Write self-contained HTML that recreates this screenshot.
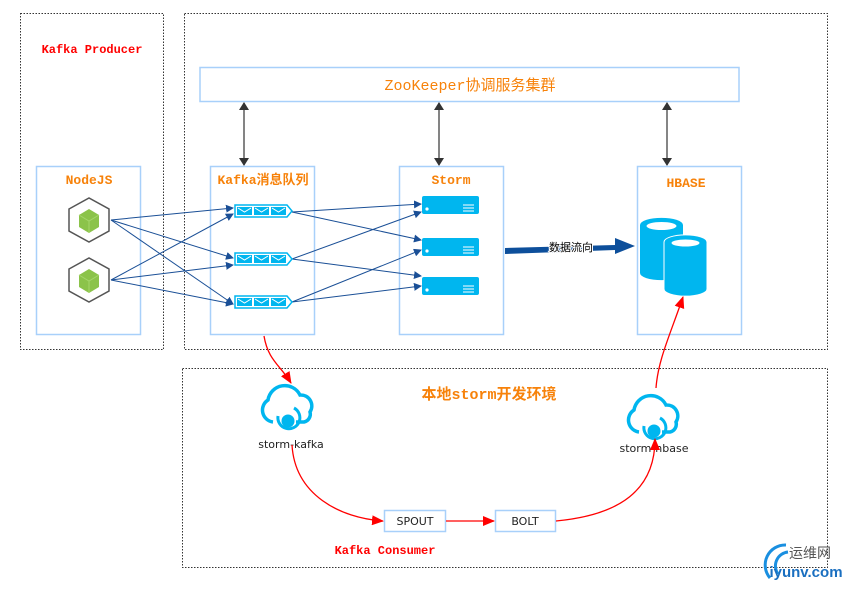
<!DOCTYPE html>
<html><head><meta charset="utf-8"><style>
body{margin:0;background:#fff;width:851px;height:587px;overflow:hidden}
</style></head><body>
<svg width="851" height="587" viewBox="0 0 851 587" xmlns="http://www.w3.org/2000/svg" font-family="Liberation Mono, Noto Sans CJK SC, monospace">
<defs>
<marker id="ab" markerWidth="8" markerHeight="8" refX="7" refY="4" orient="auto" markerUnits="userSpaceOnUse"><path d="M0,0 L8,4 L0,8 z" fill="#1a4f96"/></marker>
<marker id="ak" markerWidth="8" markerHeight="10" refX="7" refY="5" orient="auto-start-reverse" markerUnits="userSpaceOnUse"><path d="M0,0 L8,5 L0,10 z" fill="#333"/></marker>
<marker id="ar" markerWidth="12" markerHeight="10" refX="11" refY="5" orient="auto" markerUnits="userSpaceOnUse"><path d="M0,0 L12,5 L0,10 z" fill="#f00"/></marker>
<g id="q"><path d="M0,0 H52 L57,6 L52,12 H0 z" fill="#fff" stroke="#00b6ef" stroke-width="1.5"/>
<rect x="2" y="2" width="15" height="8" fill="#00b6ef"/><rect x="19" y="2" width="15" height="8" fill="#00b6ef"/><rect x="36" y="2" width="15" height="8" fill="#00b6ef"/>
<path d="M3,3 l6.5,4 l6.5,-4 M20,3 l6.5,4 l6.5,-4 M37,3 l6.5,4 l6.5,-4" stroke="#fff" fill="none"/></g>
<g id="s"><rect x="0" y="0" width="57" height="18" rx="2" fill="#00b6ef"/><circle cx="5" cy="13" r="1.6" fill="#fff"/><path d="M41,9h11M41,12h11M41,15h11" stroke="#fff"/></g>
<g id="c"><path d="M-20,-11 l20,-11 l20,11 v22 l-20,11 l-20,-11 z" fill="#fff" stroke="#555" stroke-width="1.5"/><path d="M-10,-5 l10,-6 l10,6 v12 l-10,6 l-10,-6z" fill="#8bc34a"/><path d="M-10,-5 l10,6 l10,-6 M0,1 v12" stroke="#a5d66b" fill="none"/></g>
<g id="cl"><path d="M-17,14 a12,12 0 0 1 -5,-22 a17,17 0 0 1 32,-5 a11,11 0 0 1 10,17 a8,8 0 0 1 -6,10 h-8" fill="none" stroke="#00b6ef" stroke-width="3.5"/><circle cx="-2" cy="13" r="6.5" fill="#00b6ef"/><path d="M-12,8 a11,11 0 1 0 16,-8" fill="none" stroke="#00b6ef" stroke-width="3"/></g>
</defs>
<g fill="none" stroke="#333" stroke-dasharray="1.5,1.5">
<rect x="20.5" y="13.5" width="143" height="336"/>
<rect x="184.5" y="13.5" width="643" height="336"/>
<rect x="182.5" y="368.5" width="645" height="199"/>
</g>
<text x="92" y="53" fill="#f00" font-size="12" font-weight="bold" text-anchor="middle">Kafka Producer</text>
<rect x="200" y="67.5" width="539" height="34" fill="#fff" stroke="#a8d0fa" stroke-width="1.5"/>
<text x="470" y="90" fill="#f7820a" font-size="15" text-anchor="middle">ZooKeeper协调服务集群</text>
<g stroke="#333" stroke-width="1.2" marker-end="url(#ak)" marker-start="url(#ak)">
<line x1="244" y1="165" x2="244" y2="103"/><line x1="439" y1="165" x2="439" y2="103"/><line x1="667" y1="165" x2="667" y2="103"/>
</g>
<g fill="#fff" stroke="#a8d0fa" stroke-width="1.5">
<rect x="36.5" y="166.5" width="104" height="168"/>
<rect x="210.5" y="166.5" width="104" height="168"/>
<rect x="399.5" y="166.5" width="104" height="168"/>
<rect x="637.5" y="166.5" width="104" height="168"/>
</g>
<g fill="#f7820a" font-size="13" font-weight="bold" text-anchor="middle">
<text x="89" y="184">NodeJS</text><text x="263" y="184">Kafka消息队列</text><text x="451" y="184">Storm</text><text x="686" y="187">HBASE</text>
</g>
<use href="#c" x="89" y="220"/><use href="#c" x="89" y="280"/>
<g stroke="#1a4f96" stroke-width="1" marker-end="url(#ab)" fill="none">
<line x1="111" y1="220" x2="233" y2="208"/><line x1="111" y1="220" x2="233" y2="258"/><line x1="111" y1="220" x2="233" y2="304"/>
<line x1="111" y1="280" x2="233" y2="214"/><line x1="111" y1="280" x2="233" y2="265"/><line x1="111" y1="280" x2="233" y2="304"/>
<line x1="292" y1="212" x2="421" y2="204"/><line x1="292" y1="212" x2="421" y2="240"/>
<line x1="292" y1="259" x2="421" y2="212"/><line x1="292" y1="259" x2="421" y2="276"/>
<line x1="292" y1="302" x2="421" y2="250"/><line x1="292" y1="302" x2="421" y2="286"/>
</g>
<use href="#q" x="235" y="205"/><use href="#q" x="235" y="253"/><use href="#q" x="235" y="296"/>
<use href="#s" x="422" y="196"/><use href="#s" x="422" y="238"/><use href="#s" x="422" y="277"/>
<path d="M505,248 L615,245 L615,238 L635,246 L615,254 L615,250 L505,254z" fill="#0d4f9b"/>
<text x="571" y="251" font-size="11" text-anchor="middle" font-family="Liberation Sans, Noto Sans CJK SC, sans-serif" fill="#000" style="paint-order:stroke" stroke="#fff" stroke-width="2">数据流向</text>
<g fill="#00b6ef">
<path d="M640,225 a21,7 0 0 1 43,0 v48 a21,7 0 0 1 -43,0z"/>
<ellipse cx="661.5" cy="226" rx="15" ry="4" fill="#fff"/>
<path d="M664,242 a21,7 0 0 1 43,0 v47 a21,7 0 0 1 -43,0z" stroke="#fff" stroke-width="1"/>
<ellipse cx="685.5" cy="243" rx="14" ry="3.5" fill="#fff"/>
</g>
<text x="489" y="399" fill="#f7820a" font-size="15" font-weight="bold" text-anchor="middle">本地storm开发环境</text>
<use href="#cl" x="290" y="408"/><use href="#cl" x="656" y="418"/>
<g font-family="DejaVu Sans, sans-serif" font-size="11" fill="#222" text-anchor="middle">
<text x="291" y="448">storm-kafka</text><text x="654" y="452">storm-hbase</text>
</g>
<rect x="384.5" y="510.5" width="61" height="21" fill="#fff" stroke="#a8d0fa" stroke-width="1.5"/>
<rect x="495.5" y="510.5" width="60" height="21" fill="#fff" stroke="#a8d0fa" stroke-width="1.5"/>
<g font-family="DejaVu Sans, sans-serif" font-size="11" fill="#222" text-anchor="middle"><text x="415" y="525">SPOUT</text><text x="525" y="525">BOLT</text></g>
<g stroke="#f00" stroke-width="1.3" fill="none" marker-end="url(#ar)">
<path d="M264,336 C268,360 280,365 291,383"/>
<path d="M292,445 C295,495 340,518 383,521"/>
<line x1="446" y1="521" x2="494" y2="521"/>
<path d="M556,521 C620,515 655,490 655,439"/>
<path d="M656,388 C658,360 670,335 683,297"/>
</g>
<text x="385" y="554" fill="#f00" font-size="12" font-weight="bold" text-anchor="middle">Kafka Consumer</text>
<g fill="none" stroke="#1a8fe0" stroke-width="3"><path d="M770,578 a20,20 0 0 1 16,-33"/><path d="M778,574 a14,14 0 0 1 10,-22"/></g>
<text x="810" y="558" font-size="14" fill="#555" text-anchor="middle" font-family="Liberation Sans, Noto Sans CJK SC, sans-serif">运维网</text>
<text x="806" y="577" font-size="15" fill="#1a6fc0" font-weight="bold" text-anchor="middle" font-family="Liberation Sans, sans-serif">iyunv.com</text>
</svg>
</body></html>
